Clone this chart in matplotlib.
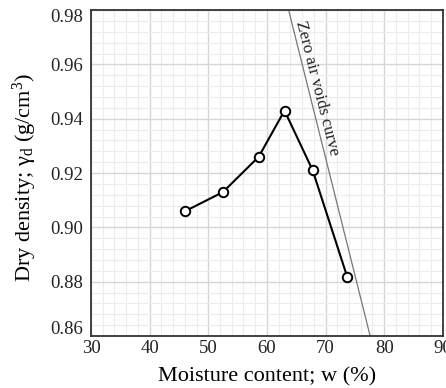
import matplotlib
matplotlib.use("Agg")
import matplotlib.pyplot as plt
from matplotlib.ticker import MultipleLocator
from matplotlib.transforms import ScaledTranslation

plt.rcParams['font.family'] = ['Liberation Serif', 'DejaVu Serif']
plt.rcParams['mathtext.fontset'] = 'custom'
plt.rcParams['mathtext.rm'] = 'Liberation Serif'
plt.rcParams['mathtext.it'] = 'Liberation Serif:italic'

moisture = [46.1, 52.5, 58.6, 63.0, 67.8, 73.7]
dry_density = [0.906, 0.913, 0.926, 0.943, 0.921, 0.8817]
zav_moisture = [63.7, 77.6]
zav_density = [0.98, 0.86]
x_ticks = [30, 40, 50, 60, 70, 80, 90]
y_ticks = [0.86, 0.88, 0.90, 0.92, 0.94, 0.96, 0.98]

fig = plt.figure(figsize=(4.46, 3.88), dpi=100)
ax = fig.add_axes([0.204, 0.134, 0.789, 0.840])

ax.set_xlim(30, 90)
ax.set_ylim(0.86, 0.98)
ax.set_xticks(x_ticks)
ax.set_yticks(y_ticks)
ax.set_yticklabels([f"{v:.2f}" for v in y_ticks])
ax.xaxis.set_minor_locator(MultipleLocator(2))
ax.yaxis.set_minor_locator(MultipleLocator(0.004))
ax.grid(which='minor', color='#ececec', linewidth=0.8)
ax.grid(which='major', color='#d6d6d6', linewidth=1.0)
ax.set_axisbelow(True)
ax.tick_params(which='both', length=0, labelsize=13.5, colors='#222222')
ax.tick_params(axis='y', pad=6)
ax.tick_params(axis='x', pad=3)

# end labels sit inside the axis range, as in the reference
ylabels = ax.get_yticklabels()
ylabels[0].set_transform(ylabels[0].get_transform() + ScaledTranslation(0, 9 / 100, fig.dpi_scale_trans))
ylabels[-1].set_transform(ylabels[-1].get_transform() + ScaledTranslation(0, -5 / 100, fig.dpi_scale_trans))

for s in ax.spines.values():
    s.set_color('#333333')
    s.set_linewidth(1.3)

ax.plot(zav_moisture, zav_density, color='#777777', linewidth=0.9, zorder=2)
ax.plot(moisture, dry_density, color='black', linewidth=1.5, marker='o',
        markersize=6.8, markerfacecolor='white', markeredgecolor='black',
        markeredgewidth=1.4, zorder=3)

ax.text(68.6, 0.9511, 'Zero air voids curve', rotation=-75.7, fontsize=12.3,
        ha='center', va='center', color='#222222')

ax.set_xlabel('Moisture content; w (%)', fontsize=16, labelpad=7)
ax.set_ylabel(r'Dry density; $\mathrm{\gamma_d}$ (g/cm$^\mathrm{3}$)', fontsize=16)
ax.yaxis.set_label_coords(-0.148, 0.485)

fig.savefig('out.png', dpi=100)
